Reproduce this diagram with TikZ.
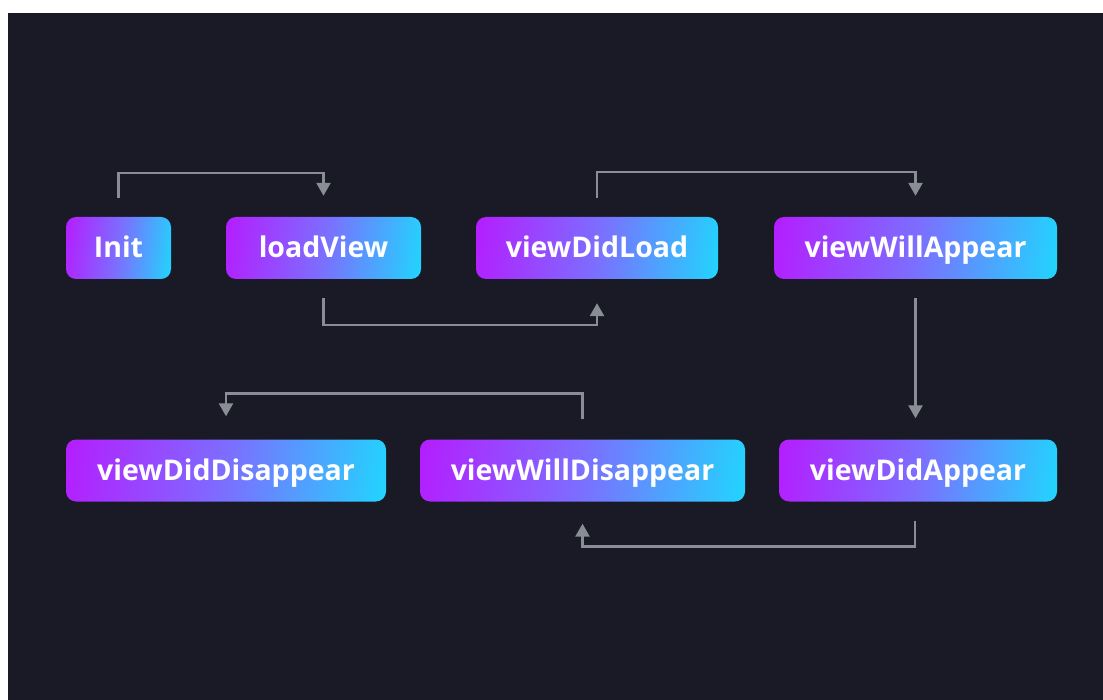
\documentclass[tikz,border=0pt]{standalone}
\usepackage{fontspec}
\setmainfont{Open Sans}
\usetikzlibrary{arrows.meta}
\definecolor{bg}{HTML}{191A25}
\definecolor{pp}{HTML}{B41EFF}
\definecolor{md}{HTML}{7C6EFF}
\definecolor{cy}{HTML}{22D4FE}
\definecolor{ln}{HTML}{8A8D96}
\pgfdeclarehorizontalshading{pcshade}{100bp}{color(0bp)=(pp); color(22bp)=(pp); color(50bp)=(md); color(78bp)=(cy); color(100bp)=(cy)}
\tikzset{
  box/.style={rounded corners=10pt, shading=pcshade, shading angle=-8, minimum height=62pt, inner sep=0pt,
    text=white, font=\fontsize{28.5}{32}\selectfont\bfseries, text height=22pt, text depth=2pt},
  conn/.style={draw=ln, line width=2.5pt, -{Triangle[width=14pt,length=13pt]}}
}
\begin{document}
\begin{tikzpicture}[x=1pt,y=-1pt]
\useasboundingbox (0,0) rectangle (1103,700);
\fill[white] (0,0) rectangle (1103,700);
\fill[bg] (8,13) rectangle (1103,700);
\node[box, minimum width=105pt] (init) at (118.5,248) {Init};
\node[box, minimum width=195pt] (lv) at (323.5,248) {loadView};
\node[box, minimum width=242pt] (dl) at (597,248) {viewDidLoad};
\node[box, minimum width=283pt] (wa) at (915.5,248) {viewWillAppear};
\node[box, minimum width=320pt] (dd) at (226,470.5) {viewDidDisappear};
\node[box, minimum width=325pt] (wd) at (582.5,470.5) {viewWillDisappear};
\node[box, minimum width=278pt] (da) at (918,470.5) {viewDidAppear};
\draw[conn] ([yshift=19pt]init.north) -- ++(0,-25) -| ([yshift=21pt]lv.north);
\draw[conn] ([yshift=-19pt]lv.south) -- ++(0,27) -| ([yshift=-24pt]dl.south);
\draw[conn] ([yshift=19pt]dl.north) -- ++(0,-26) -| ([yshift=21pt]wa.north);
\draw[conn] ([yshift=-19pt]wa.south) -- ([yshift=21pt,xshift=-2.5pt]da.north);
\draw[conn] ([yshift=-19pt,xshift=-3pt]da.south) -- ++(0,26) -| ([yshift=-22pt]wd.south);
\draw[conn] ([yshift=20pt]wd.north) -- ++(0,-26) -| ([yshift=23pt]dd.north);
\end{tikzpicture}
\end{document}
